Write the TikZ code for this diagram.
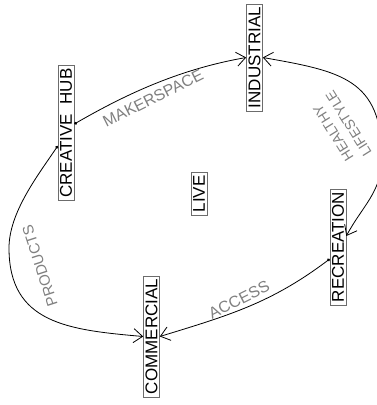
\documentclass[tikz,border=0pt]{standalone}
\usepackage{fontspec}
\setmainfont{Liberation Sans}
\usetikzlibrary{arrows.meta,calc}
\begin{document}
\begin{tikzpicture}[x=1pt,y=1pt,
  box/.style={draw=gray!85!black, rotate=90, inner xsep=3pt, inner ysep=2pt,
    font=\fontsize{17}{20}\selectfont, line width=0.6pt},
  lbl/.style={text=gray, inner sep=0pt},
  conn/.style={line width=0.8pt, {Circle[length=3pt]}-{Straight Barb[length=9pt,width=14pt]}},
  both/.style={line width=0.8pt, {Straight Barb[length=9pt,width=14pt]}-{Straight Barb[length=9pt,width=14pt]}}]
\useasboundingbox (0,0) rectangle (377,-405);
\node[box] (creative) at (66,-133) {CREATIVE~~HUB};
\node[box] (industrial) at (254.5,-57.5) {INDUSTRIAL};
\node[box] (live) at (199,-194) {LIVE};
\node[box] (recreation) at (338,-247) {RECREATION};
\node[box] (commercial) at (151.5,-336.5) {COMMERCIAL};
\coordinate (peakR) at (382,-158);
\coordinate (peakL) at (9,-248);
\draw[conn] ($(creative.south)+(0,9)$) to[out=30,in=190,looseness=0.9] (industrial.north);
\draw[both] (industrial.south) to[out=-10,in=90,looseness=1.3] (peakR) to[out=-90,in=62] ($(recreation.south)+(0,11)$);
\draw[conn] ($(recreation.north)+(0,-12)$) to[out=217,in=17] (commercial.south);
\draw[conn] ($(creative.north)+(0,-13)$) to[out=236,in=90,looseness=0.8] (peakL) to[out=-90,in=175,looseness=1.2] (commercial.north);
\node[lbl, rotate=26.6, font=\fontsize{16}{19}\selectfont] (mk) at (153,-98) {MAKERSPACE};
\node[lbl, rotate=26.6, font=\fontsize{16}{19}\selectfont] (ac) at (239,-300) {ACCESS};
\node[lbl, rotate=108, font=\fontsize{15}{18}\selectfont] (pr) at (40,-266) {PRODUCTS};
\node[lbl, rotate=122, align=center, font=\fontsize{14}{18}\selectfont] (hl) at (341,-128) {HEALTHY\\LIFESTYLE};
\end{tikzpicture}
\end{document}
